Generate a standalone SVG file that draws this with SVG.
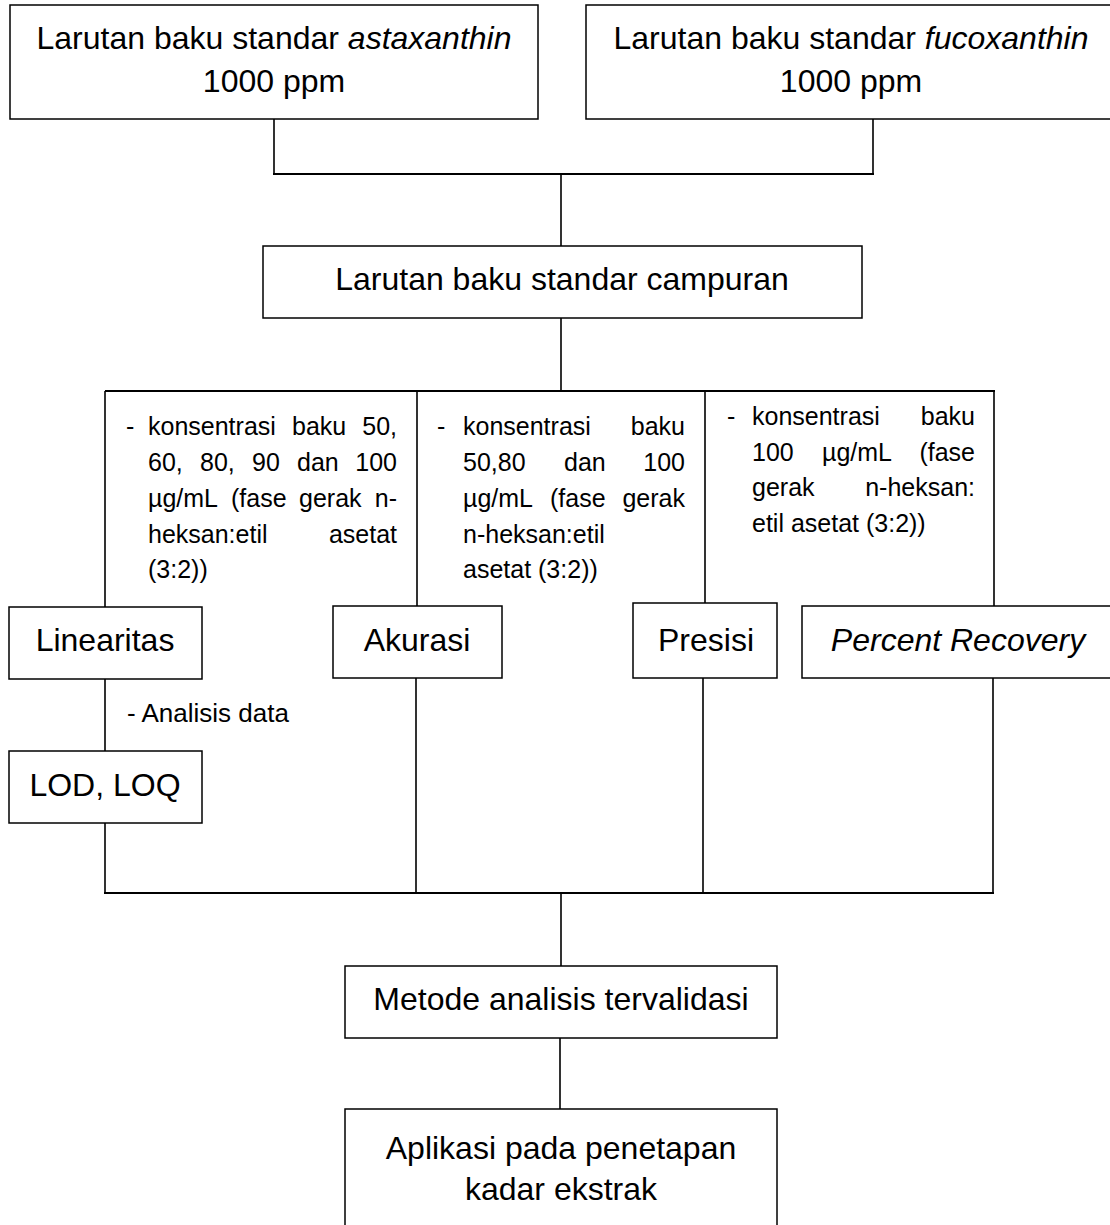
<svg xmlns="http://www.w3.org/2000/svg" width="1110" height="1225" viewBox="0 0 1110 1225">
<style>
.box{fill:#fff;stroke:#000;stroke-width:1.5}
.ln{fill:none;stroke:#000;stroke-width:1.6}
.bar{fill:none;stroke:#000;stroke-width:2.2}
.t{font-family:"Liberation Sans",Arial,sans-serif;font-size:32px;fill:#000;text-anchor:middle}
.s{font-family:"Liberation Sans",Arial,sans-serif;font-size:25px;fill:#000}
.e{text-anchor:end}
.i{font-style:italic}
</style>
<rect width="1110" height="1225" fill="#fff"/>
<g id="connectors">
<path class="ln" d="M274,119V174M873,119V174M561,174V246M561,318V391"/>
<path class="bar" d="M273,174H874M105,391H995"/>
<path class="ln" d="M105,391V607M417,391V606M705,391V603M994,391V606"/>
<path class="ln" d="M105,679V751M105,823V893M416,678V893M703,678V893M993,678V893"/>
<path class="bar" d="M104,893H994"/>
<path class="ln" d="M561,893V966M560,1038V1109"/>
</g>
<g id="n_astaxanthin">
<rect class="box" x="10" y="5" width="528" height="114"/>
<text class="t" x="274" y="49">Larutan baku standar <tspan class="i">astaxanthin</tspan></text>
<text class="t" x="274" y="92">1000 ppm</text>
</g>
<g id="n_fucoxanthin">
<rect class="box" x="586" y="5" width="530" height="114"/>
<text class="t" x="851" y="49">Larutan baku standar <tspan class="i">fucoxanthin</tspan></text>
<text class="t" x="851" y="92">1000 ppm</text>
</g>
<g id="n_campuran">
<rect class="box" x="263" y="246" width="599" height="72"/>
<text class="t" x="562" y="290">Larutan baku standar campuran</text>
</g>
<g id="txt_col1">
<text class="s" x="126" y="435">-</text>
<text class="s" x="148" y="435">konsentrasi</text>
<text class="s" x="292" y="435">baku</text>
<text class="s e" x="397" y="435">50,</text>
<text class="s" x="148" y="471">60,</text>
<text class="s" x="200" y="471">80,</text>
<text class="s" x="252" y="471">90</text>
<text class="s" x="297" y="471">dan</text>
<text class="s e" x="397" y="471">100</text>
<text class="s" x="148" y="507">µg/mL</text>
<text class="s" x="231" y="507">(fase</text>
<text class="s" x="299" y="507">gerak</text>
<text class="s e" x="397" y="507">n-</text>
<text class="s" x="148" y="543">heksan:etil</text>
<text class="s e" x="397" y="543">asetat</text>
<text class="s" x="148" y="578">(3:2))</text>
</g>
<g id="txt_col2">
<text class="s" x="437" y="435">-</text>
<text class="s" x="463" y="435">konsentrasi</text>
<text class="s e" x="685" y="435">baku</text>
<text class="s" x="463" y="471">50,80</text>
<text class="s" x="564" y="471">dan</text>
<text class="s e" x="685" y="471">100</text>
<text class="s" x="463" y="507">µg/mL</text>
<text class="s" x="550" y="507">(fase</text>
<text class="s e" x="685" y="507">gerak</text>
<text class="s" x="463" y="543">n-heksan:etil</text>
<text class="s" x="463" y="578">asetat (3:2))</text>
</g>
<g id="txt_col3">
<text class="s" x="727" y="425">-</text>
<text class="s" x="752" y="425">konsentrasi</text>
<text class="s e" x="975" y="425">baku</text>
<text class="s" x="752" y="461">100</text>
<text class="s" x="822" y="461">µg/mL</text>
<text class="s e" x="975" y="461">(fase</text>
<text class="s" x="752" y="496">gerak</text>
<text class="s e" x="975" y="496">n-heksan:</text>
<text class="s" x="752" y="532">etil asetat (3:2))</text>
</g>
<g id="n_linearitas">
<rect class="box" x="9" y="607" width="193" height="72"/>
<text class="t" x="105" y="651">Linearitas</text>
</g>
<g id="n_akurasi">
<rect class="box" x="333" y="606" width="169" height="72"/>
<text class="t" x="417" y="651">Akurasi</text>
</g>
<g id="n_presisi">
<rect class="box" x="633" y="603" width="144" height="75"/>
<text class="t" x="706" y="651">Presisi</text>
</g>
<g id="n_recovery">
<rect class="box" x="802" y="606" width="320" height="72"/>
<text class="t i" x="958" y="651">Percent Recovery</text>
</g>
<g id="lbl_analisis">
<text class="s" x="127" y="722" style="font-size:26px">- Analisis data</text>
</g>
<g id="n_lod">
<rect class="box" x="9" y="751" width="193" height="72"/>
<text class="t" x="105" y="796">LOD, LOQ</text>
</g>
<g id="n_metode">
<rect class="box" x="345" y="966" width="432" height="72"/>
<text class="t" x="561" y="1010">Metode analisis tervalidasi</text>
</g>
<g id="n_aplikasi">
<rect class="box" x="345" y="1109" width="432" height="130"/>
<text class="t" x="561" y="1159">Aplikasi pada penetapan</text>
<text class="t" x="561" y="1200">kadar ekstrak</text>
</g>
</svg>
